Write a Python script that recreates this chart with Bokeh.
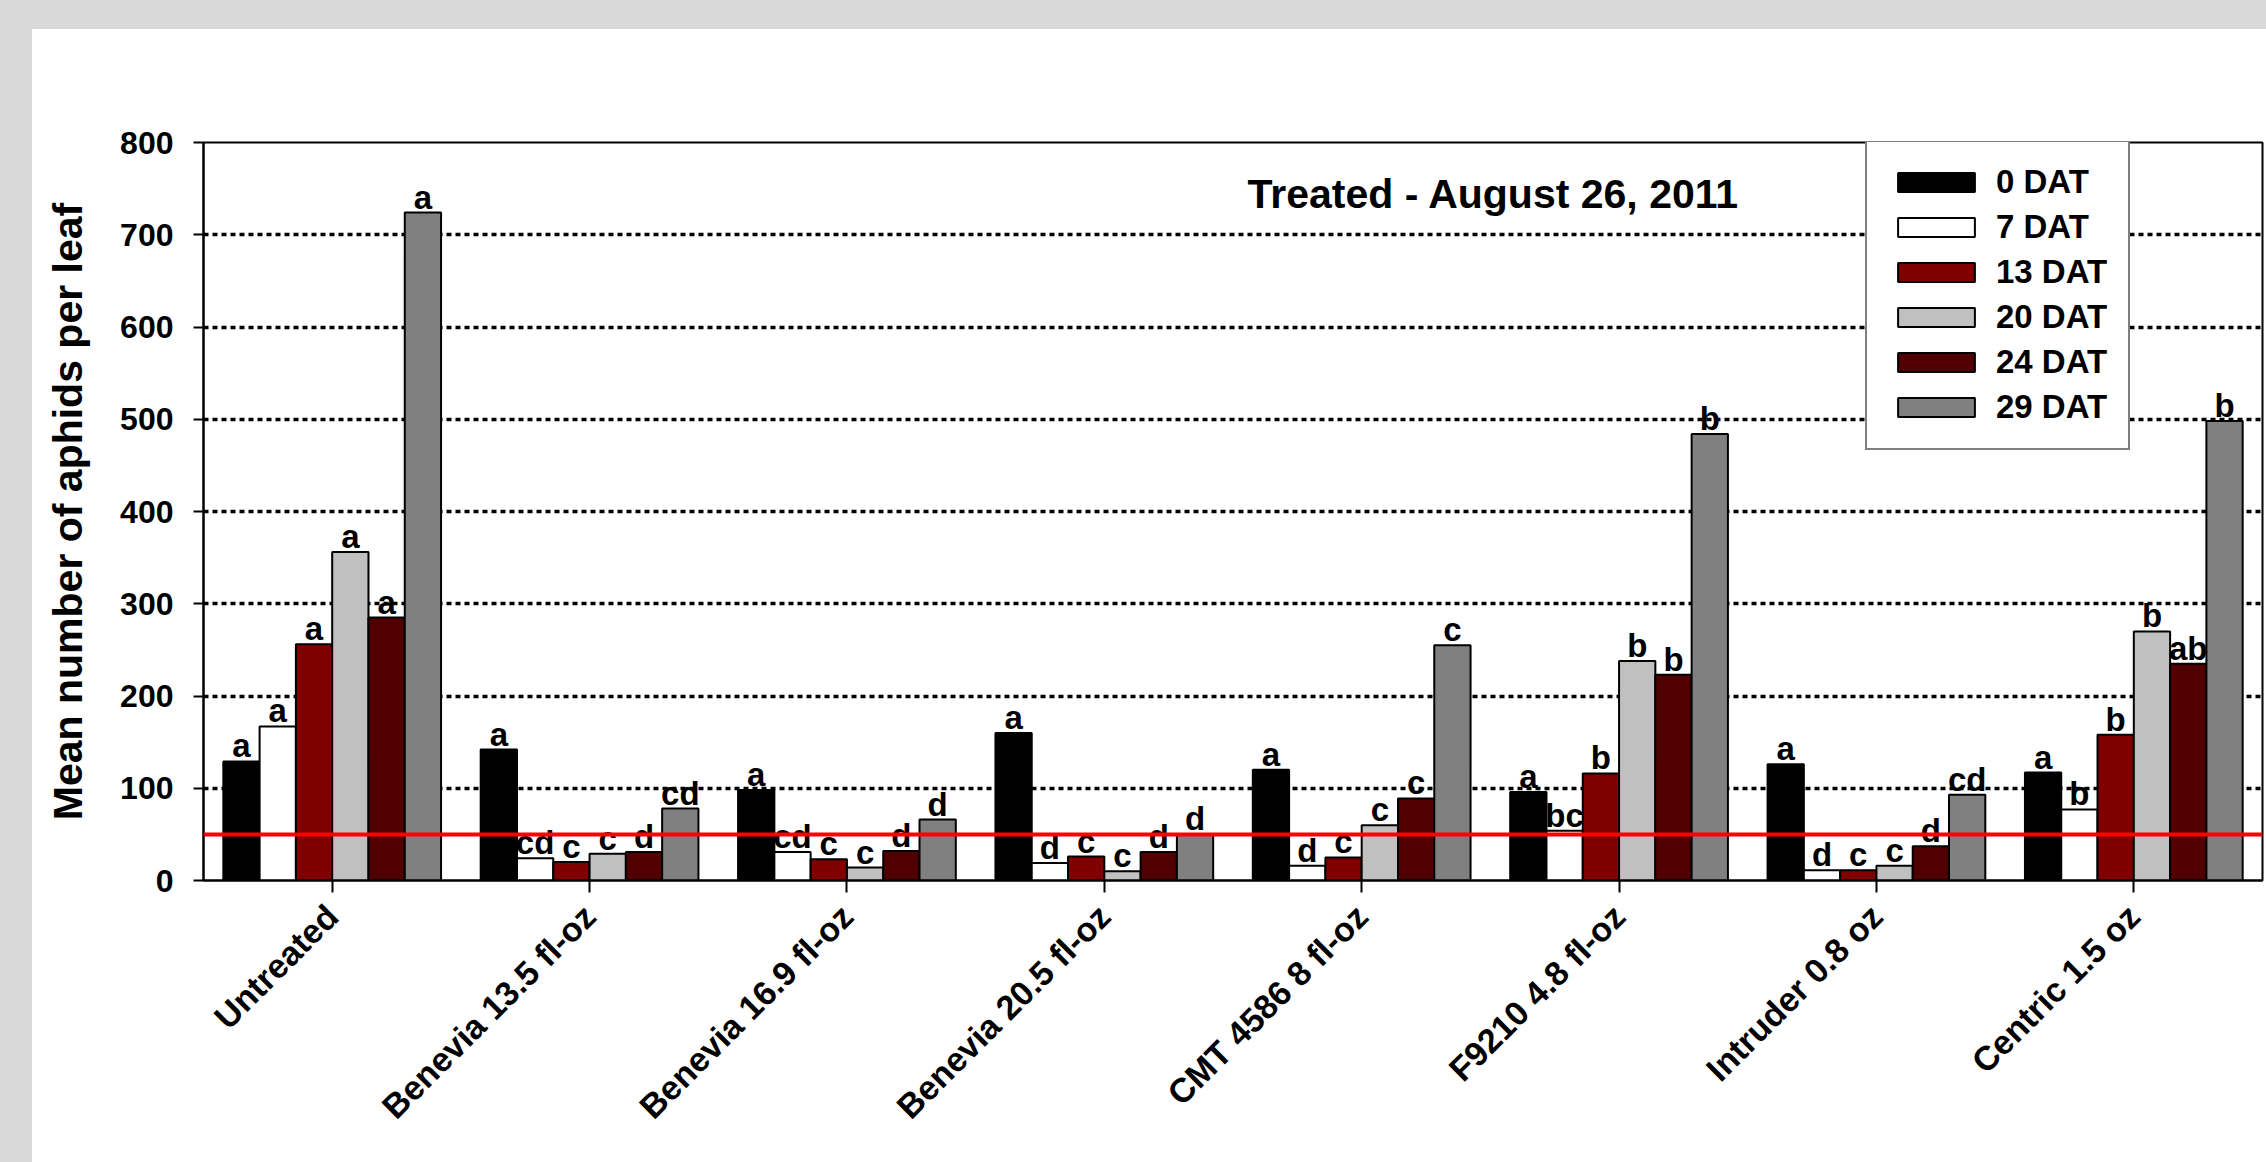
import math
from bokeh.plotting import figure
from bokeh.models import ColumnDataSource, FactorRange, Range1d, Span, Label, FixedTicker, Spacer
from bokeh.transform import dodge
from bokeh.layouts import column, row
from bokeh.core.properties import value
from bokeh.embed import file_html
from bokeh.resources import INLINE

# ---------------- data ----------------
treatments = ["Untreated", "Benevia 13.5 fl-oz", "Benevia 16.9 fl-oz", "Benevia 20.5 fl-oz",
              "CMT 4586 8 fl-oz", "F9210 4.8 fl-oz", "Intruder 0.8 oz", "Centric 1.5 oz"]
series_names = ["0 DAT", "7 DAT", "13 DAT", "20 DAT", "24 DAT", "29 DAT"]

dat_0 = [129, 142, 98, 160, 120, 96, 126, 117]
dat_7 = [167, 24, 31, 19, 16, 54, 11, 77]
dat_13 = [256, 20, 23, 26, 25, 116, 11, 158]
dat_20 = [356, 29, 14, 10, 60, 238, 16, 270]
dat_24 = [285, 31, 32, 31, 89, 223, 37, 235]
dat_29 = [724, 78, 66, 50, 255, 484, 93, 498]

let_0 = ["a", "a", "a", "a", "a", "a", "a", "a"]
let_7 = ["a", "cd", "cd", "d", "d", "bc", "d", "b"]
let_13 = ["a", "c", "c", "c", "c", "b", "c", "b"]
let_20 = ["a", "c", "c", "c", "c", "b", "c", "b"]
let_24 = ["a", "d", "d", "d", "c", "b", "d", "ab"]
let_29 = ["a", "cd", "d", "d", "c", "b", "cd", "b"]

threshold = 50
y_ticks = [0, 100, 200, 300, 400, 500, 600, 700, 800]
title_text = "Treated - August 26, 2011"
y_title = "Mean number of aphids per leaf"

colors = ["#000000", "#ffffff", "#800000", "#c0c0c0", "#500000", "#808080"]

# ---------------- source ----------------
values_list = [dat_0, dat_7, dat_13, dat_20, dat_24, dat_29]
letters_list = [let_0, let_7, let_13, let_20, let_24, let_29]
data = {"treatment": treatments}
for j in range(6):
    data[f"v{j}"] = values_list[j]
    data[f"l{j}"] = letters_list[j]
src = ColumnDataSource(data)

FONT = "Liberation Sans"
GRAY = "#d9d9d9"

p = figure(x_range=FactorRange(*treatments), y_range=Range1d(0, 800),
           width=2234, height=1133, output_backend="svg", toolbar_location=None,
           min_border_left=171, min_border_right=4, min_border_top=113, min_border_bottom=282,
           background_fill_color="white", border_fill_color="white",
           outline_line_color="black", outline_line_width=2)

bw = 0.141
for j in range(6):
    off = (j - 2.5) * bw
    p.vbar(x=dodge("treatment", off, range=p.x_range), top=f"v{j}", width=bw, source=src,
           fill_color=colors[j], line_color="black", line_width=2,
           legend_label=series_names[j])
    p.text(x=dodge("treatment", off, range=p.x_range), y=f"v{j}", text=f"l{j}", source=src,
           text_align="center", text_baseline="bottom", y_offset=3,
           text_font=value(FONT), text_font_style="bold", text_font_size="33px",
           text_color="black")

p.add_layout(Span(location=threshold, dimension="width", line_color="#ff0000", line_width=4))

p.add_layout(Label(x=1290, y=687, x_units="screen", y_units="screen", text=title_text,
                   text_align="center", text_baseline="alphabetic",
                   text_font=FONT, text_font_style="bold", text_font_size="41px",
                   text_color="black"))

# axes
p.xgrid.grid_line_color = None
p.ygrid.grid_line_color = "black"
p.ygrid.grid_line_width = 3.5
p.ygrid.grid_line_dash = "5 4"

p.yaxis.ticker = FixedTicker(ticks=y_ticks)
p.yaxis.axis_label = y_title
p.yaxis.axis_label_text_font = FONT
p.yaxis.axis_label_text_font_style = "bold"
p.yaxis.axis_label_text_font_size = "41px"
p.yaxis.axis_label_text_color = "black"
p.yaxis.axis_label_standoff = 26
p.yaxis.major_label_text_font = FONT
p.yaxis.major_label_text_font_style = "bold"
p.yaxis.major_label_text_font_size = "32px"
p.yaxis.major_label_text_color = "black"
p.yaxis.major_label_standoff = 20
p.yaxis.major_tick_out = 10
p.yaxis.major_tick_in = 0
p.yaxis.minor_tick_line_color = None
p.yaxis.axis_line_width = 2
p.yaxis.major_tick_line_width = 2
p.yaxis.axis_line_color = "black"
p.yaxis.major_tick_line_color = "black"

p.xaxis.major_label_orientation = math.pi / 4
p.xaxis.major_label_text_font = FONT
p.xaxis.major_label_text_font_style = "bold"
p.xaxis.major_label_text_font_size = "34px"
p.xaxis.major_label_text_color = "black"
p.xaxis.major_label_standoff = 18
p.xaxis.major_tick_out = 12
p.xaxis.major_tick_in = 0
p.xaxis.major_tick_line_width = 2
p.xaxis.axis_line_width = 2
p.xaxis.axis_line_color = "black"
p.xaxis.major_tick_line_color = "black"

# legend
lg = p.legend[0]
lg.location = (1662, 430)
lg.glyph_width = 96
lg.glyph_height = 24
lg.label_height = 40
lg.spacing = 5
lg.padding = 21
lg.margin = 0
lg.label_standoff = 12
lg.border_line_color = "black"
lg.border_line_width = 2
lg.background_fill_color = "white"
lg.background_fill_alpha = 1.0
lg.label_text_font = FONT
lg.label_text_font_style = "bold"
lg.label_text_font_size = "33px"
lg.label_text_color = "black"

top_bar = Spacer(width=2266, height=29, styles={"background-color": GRAY})
left_bar = Spacer(width=32, height=1133, styles={"background-color": GRAY})
layout = column(top_bar, row(left_bar, p, spacing=0), spacing=0)

open("out.html", "w").write(file_html(layout, INLINE))
